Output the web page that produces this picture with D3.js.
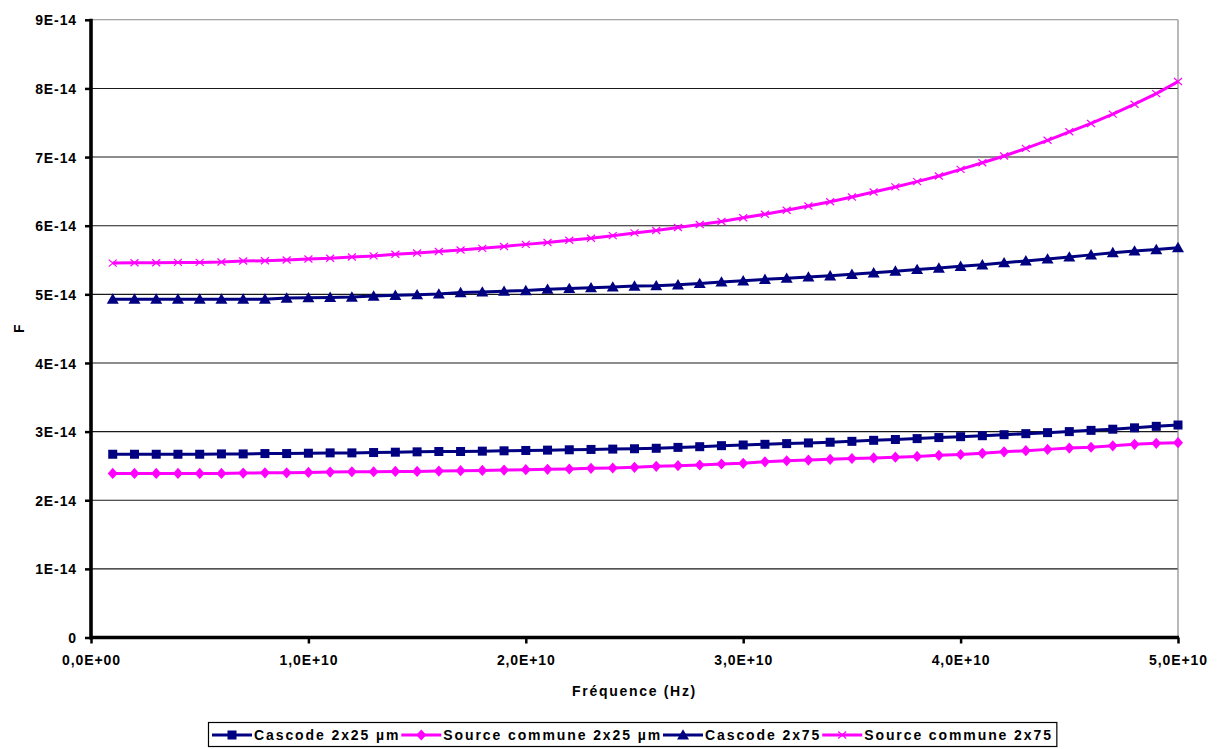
<!DOCTYPE html>
<html><head><meta charset="utf-8">
<script src="https://cdn.jsdelivr.net/npm/d3@7"></script>
<style>
body{margin:0;background:#fff}
text{font-family:"Liberation Sans",Arial,sans-serif;font-weight:bold;fill:#000}
</style>
</head><body>
<svg id="c" width="1220" height="749"></svg>
<script>
// Frequency (Hz)
const freqs = [1e9,2e9,3e9,4e9,5e9,6e9,7e9,8e9,9e9,1e10,
  1.1e10,1.2e10,1.3e10,1.4e10,1.5e10,1.6e10,1.7e10,1.8e10,1.9e10,2e10,
  2.1e10,2.2e10,2.3e10,2.4e10,2.5e10,2.6e10,2.7e10,2.8e10,2.9e10,3e10,
  3.1e10,3.2e10,3.3e10,3.4e10,3.5e10,3.6e10,3.7e10,3.8e10,3.9e10,4e10,
  4.1e10,4.2e10,4.3e10,4.4e10,4.5e10,4.6e10,4.7e10,4.8e10,4.9e10,5e10];
// Values in units of 1E-14 F
const cascode25 = [2.67,2.67,2.67,2.67,2.67,2.675,2.675,2.68,2.68,2.685,
  2.69,2.69,2.695,2.70,2.705,2.71,2.71,2.715,2.72,2.725,
  2.73,2.735,2.74,2.745,2.75,2.757,2.77,2.78,2.795,2.805,
  2.815,2.825,2.835,2.845,2.858,2.873,2.885,2.898,2.913,2.926,
  2.94,2.955,2.97,2.985,3.0,3.018,3.035,3.055,3.077,3.096];
const source25 = [2.39,2.39,2.39,2.39,2.39,2.39,2.395,2.40,2.40,2.405,
  2.41,2.415,2.415,2.42,2.42,2.425,2.43,2.435,2.44,2.445,
  2.45,2.455,2.465,2.47,2.48,2.494,2.504,2.513,2.528,2.538,
  2.56,2.575,2.585,2.596,2.608,2.617,2.627,2.638,2.655,2.666,
  2.683,2.705,2.722,2.741,2.76,2.772,2.793,2.815,2.829,2.838];
const cascode75 = [4.93,4.93,4.93,4.93,4.93,4.93,4.93,4.93,4.945,4.95,
  4.955,4.96,4.975,4.985,4.995,5.005,5.025,5.035,5.045,5.055,
  5.075,5.085,5.097,5.107,5.12,5.125,5.138,5.158,5.18,5.197,
  5.218,5.235,5.253,5.27,5.292,5.313,5.338,5.362,5.382,5.408,
  5.43,5.46,5.487,5.515,5.545,5.575,5.607,5.632,5.652,5.68];
const source75 = [5.455,5.46,5.46,5.465,5.465,5.47,5.485,5.49,5.5,5.515,
  5.525,5.545,5.56,5.583,5.603,5.623,5.645,5.67,5.697,5.728,
  5.755,5.787,5.818,5.855,5.895,5.93,5.973,6.018,6.062,6.115,
  6.167,6.225,6.287,6.35,6.418,6.49,6.565,6.642,6.725,6.82,
  6.918,7.016,7.127,7.244,7.368,7.49,7.625,7.77,7.925,8.1];

const seriesNames = ["Cascode 2x25 µm","Source commune 2x25 µm","Cascode 2x75","Source commune 2x75"];
const yTickValues = [0,1,2,3,4,5,6,7,8,9];
const yTickLabels = ["0","1E-14","2E-14","3E-14","4E-14","5E-14","6E-14","7E-14","8E-14","9E-14"];
const xTickValues = [0,1e10,2e10,3e10,4e10,5e10];
const xTickLabels = ["0,0E+00","1,0E+10","2,0E+10","3,0E+10","4,0E+10","5,0E+10"];
const xTitle = "Fréquence (Hz)";
const yTitle = "F";

const navy = "#000080", magenta = "#FF00FF";
const series = [
  {name: seriesNames[0], values: cascode25, color: navy, marker: "square"},
  {name: seriesNames[1], values: source25, color: magenta, marker: "diamond"},
  {name: seriesNames[2], values: cascode75, color: navy, marker: "triangle"},
  {name: seriesNames[3], values: source75, color: magenta, marker: "x"}
];

const svg = d3.select("#c");
const L = 91, R = 1178, T = 19.8, B = 637.5;
const x = d3.scaleLinear().domain([0, 5e10]).range([L, R]);
const y = d3.scaleLinear().domain([0, 9]).range([B, T]);

// gridlines
svg.append("g").selectAll("line").data(yTickValues.filter(v => v > 0)).join("line")
  .attr("x1", L).attr("x2", R).attr("y1", d => y(d)).attr("y2", d => y(d))
  .attr("stroke", d => d === 9 ? "#8a8a8a" : "#1a1a1a").attr("stroke-width", 1.1);
// right border
svg.append("line").attr("x1", R).attr("x2", R).attr("y1", T).attr("y2", B)
  .attr("stroke", "#8a8a8a").attr("stroke-width", 1.2);

// Axes
const yAxis = d3.axisLeft(y).tickValues(yTickValues).tickSize(6).tickPadding(8)
  .tickFormat((d, i) => yTickLabels[i]);
const gy = svg.append("g").attr("transform", `translate(${L},0)`).call(yAxis);
const xAxis = d3.axisBottom(x).tickValues(xTickValues).tickSize(6).tickPadding(12)
  .tickFormat((d, i) => xTickLabels[i]);
const gx = svg.append("g").attr("transform", `translate(0,${B})`).call(xAxis);
[gy, gx].forEach(g => {
  g.select(".domain").remove();
  g.selectAll(".tick line").attr("stroke", "#000").attr("stroke-width", 2.5);
  g.selectAll(".tick text").style("font-size", "14px").style("letter-spacing", "0.9px")
    .style("font-family", '"Liberation Sans",Arial,sans-serif').style("font-weight", "bold").attr("fill", "#000");
});
gy.selectAll(".tick text").attr("dy", "0.36em");
svg.append("line").attr("x1", L).attr("x2", L).attr("y1", T - 1).attr("y2", B + 2)
  .attr("stroke", "#000").attr("stroke-width", 3.6);
svg.append("line").attr("x1", L - 1).attr("x2", R + 1).attr("y1", B).attr("y2", B)
  .attr("stroke", "#000").attr("stroke-width", 3.6);

// Axis titles
svg.append("text").attr("x", (L + R) / 2).attr("y", 696).attr("text-anchor", "middle")
  .style("font-size", "14px").style("letter-spacing", "1.7px").text(xTitle);
svg.append("text").attr("transform", `translate(24,${(T + B) / 2}) rotate(-90)`)
  .attr("text-anchor", "middle").style("font-size", "14px").text(yTitle);

// markers
function drawMarker(g, type, color) {
  if (type === "square") {
    g.append("rect").attr("x", -4.5).attr("y", -4.5).attr("width", 9).attr("height", 9).attr("fill", color);
  } else if (type === "diamond") {
    g.append("path").attr("d", "M0,-5.6L5,0L0,5.6L-5,0Z").attr("fill", color);
  } else if (type === "triangle") {
    g.append("path").attr("d", "M0,-5.8L6,4.6L-6,4.6Z").attr("fill", color);
  } else {
    g.append("path").attr("d", "M-4,-3.5L4,3.5M-4,3.5L4,-3.5").attr("stroke", color).attr("stroke-width", 1.2).attr("fill", "none");
  }
}

const line = d3.line().x((d, i) => x(freqs[i])).y(d => y(d));
series.forEach(s => {
  const g = svg.append("g");
  g.append("path").attr("d", line(s.values)).attr("fill", "none")
    .attr("stroke", s.color).attr("stroke-width", 3).attr("stroke-linejoin", "round");
  s.values.forEach((v, i) => {
    const m = g.append("g").attr("transform", `translate(${x(freqs[i])},${y(v)})`);
    drawMarker(m, s.marker, s.color);
  });
});

// Legend
const lg = svg.append("g");
const box = lg.append("rect").attr("y", 722.5).attr("height", 24).attr("x", 208.5)
  .attr("fill", "#fff").attr("stroke", "#000").attr("stroke-width", 1.2);
let cx = 212;
const ly = 735;
series.forEach(s => {
  lg.append("line").attr("x1", cx).attr("x2", cx + 40).attr("y1", ly).attr("y2", ly)
    .attr("stroke", s.color).attr("stroke-width", 3);
  const m = lg.append("g").attr("transform", `translate(${cx + 20},${ly})`);
  drawMarker(m, s.marker, s.color);
  const t = lg.append("text").attr("x", cx + 42).attr("y", ly + 5)
    .style("font-size", "14px").style("letter-spacing", "1.9px").text(s.name);
  cx = cx + 42 + t.node().getComputedTextLength() + 1;
});
box.attr("width", cx - 208.5 + 3);
</script>
</body></html>
